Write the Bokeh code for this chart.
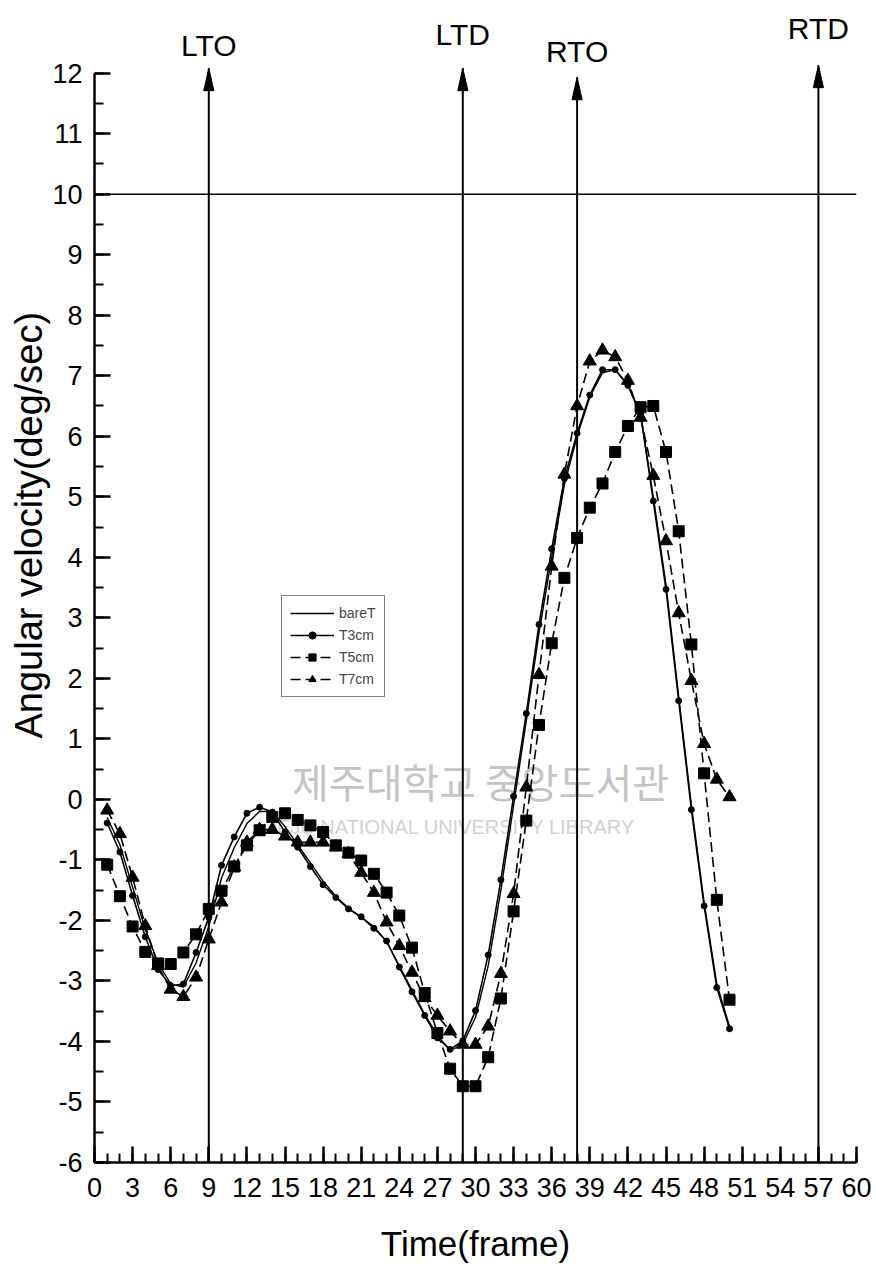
from bokeh.plotting import figure
from bokeh.models import (ColumnDataSource, Span, Label, Legend, LegendItem,
                          FixedTicker, Range1d, Title)
from bokeh.core.properties import value
from bokeh.embed import file_html
from bokeh.resources import INLINE

# ---- data -------------------------------------------------------------
frames = list(range(1, 51))

bare_t = [-0.30, -0.75, -1.45, -2.15, -2.70, -3.05, -3.10, -2.70, -2.10, -1.30,
          -0.80, -0.40, -0.20, -0.20, -0.45, -0.75, -1.05, -1.35, -1.60, -1.80,
          -1.95, -2.10, -2.35, -2.75, -3.15, -3.55, -3.90, -4.15, -4.05, -3.60,
          -2.75, -1.50, -0.10, 1.30, 2.75, 4.00, 5.20, 6.00, 6.65, 7.05,
          7.10, 6.85, 6.35, 5.00, 3.55, 1.70, -0.10, -1.70, -3.05, -3.75]

t3cm = [-0.39, -0.87, -1.59, -2.27, -2.81, -3.08, -3.05, -2.53, -1.95, -1.09,
        -0.62, -0.23, -0.13, -0.21, -0.54, -0.79, -1.11, -1.41, -1.62, -1.81,
        -1.94, -2.13, -2.34, -2.77, -3.18, -3.57, -3.94, -4.13, -3.99, -3.49,
        -2.57, -1.33, 0.05, 1.42, 2.89, 4.14, 5.30, 6.05, 6.68, 7.10,
        7.10, 6.84, 6.37, 4.93, 3.47, 1.63, -0.17, -1.76, -3.11, -3.79]

t5cm = [-1.08, -1.60, -2.10, -2.52, -2.71, -2.72, -2.53, -2.23, -1.81, -1.51,
        -1.11, -0.76, -0.51, -0.29, -0.23, -0.34, -0.43, -0.54, -0.76, -0.88,
        -1.01, -1.23, -1.54, -1.92, -2.45, -3.20, -3.86, -4.45, -4.74, -4.74,
        -4.26, -3.29, -1.85, -0.35, 1.23, 2.58, 3.66, 4.32, 4.82, 5.22,
        5.74, 6.17, 6.48, 6.50, 5.74, 4.43, 2.56, 0.43, -1.66, -3.31]

t7cm = [-0.18, -0.57, -1.29, -2.09, -2.75, -3.14, -3.26, -2.94, -2.31, -1.70,
        -1.12, -0.71, -0.50, -0.50, -0.61, -0.71, -0.71, -0.71, -0.79, -0.90,
        -1.21, -1.54, -2.03, -2.42, -2.86, -3.28, -3.57, -3.83, -4.05, -4.05,
        -3.75, -2.88, -1.56, 0.20, 2.06, 3.85, 5.37, 6.50, 7.24, 7.42,
        7.31, 6.92, 6.31, 5.35, 4.27, 3.08, 1.96, 0.92, 0.33, 0.04]

# gait events (frame of occurrence) with arrow tip height and label height
event_names = ["LTO", "LTD", "RTO", "RTD"]
event_frames = [9, 29, 38, 57]
event_tips = [12.08, 12.08, 11.93, 12.13]
event_label_y = [12.46, 12.63, 12.35, 12.74]

x_ticks = list(range(0, 61, 3))
x_minor = list(range(0, 61))
y_ticks = list(range(-6, 13))
y_minor = [v / 2 for v in range(-12, 25)]
reference_level = 10

FONT = "Liberation Sans"

# ---- figure -----------------------------------------------------------
p = figure(width=876, height=1287,
           x_range=Range1d(0, 60), y_range=Range1d(-6, 13.2),
           output_backend="svg", toolbar_location=None,
           min_border_left=94, min_border_right=20,
           min_border_top=0, min_border_bottom=125)

p.outline_line_color = None
p.xgrid.visible = False
p.ygrid.visible = False
p.background_fill_color = "white"
p.border_fill_color = "white"

for ax in (p.xaxis, p.yaxis):
    ax.axis_line_width = 2.5
    ax.axis_line_color = "black"
    ax.major_tick_in = 16
    ax.major_tick_out = 0
    ax.minor_tick_in = 9
    ax.minor_tick_out = 0
    ax.major_tick_line_width = 2.5
    ax.minor_tick_line_width = 2
    ax.major_tick_line_color = "black"
    ax.minor_tick_line_color = "black"
    ax.major_label_text_font = FONT
    ax.major_label_text_font_size = "27px"
    ax.major_label_text_color = "black"

p.xaxis.ticker = FixedTicker(ticks=x_ticks, minor_ticks=x_minor)
p.yaxis.ticker = FixedTicker(ticks=y_ticks, minor_ticks=y_minor)
p.yaxis.major_label_overrides = {t: str(t) for t in y_ticks}
p.yaxis.bounds = (-6, 12)
p.xaxis.major_label_standoff = 15
p.yaxis.major_label_standoff = 12

p.xaxis.axis_label = "Time(frame)"
p.xaxis.axis_label_text_font = FONT
p.xaxis.axis_label_text_font_size = "35px"
p.xaxis.axis_label_text_font_style = "normal"
p.xaxis.axis_label_text_color = "black"
p.xaxis.axis_label_standoff = 24

# y axis title, reading upward on the left side
p.add_layout(Title(text="Angular velocity(deg/sec)", align="left", offset=424,
                   text_font=FONT, text_font_size="38px",
                   text_font_style="normal", text_color="black",
                   standoff=0), "left")

# library stamp underneath the curves
p.add_layout(Label(x=30.4, y=0.31, text="제주대학교 중앙도서관", level="underlay",
                   text_align="center", text_baseline="middle",
                   text_font="Noto Sans CJK KR", text_font_size="40px",
                   text_color="#c4c4c4"))
p.add_layout(Label(x=28.3, y=-0.45, text="JEJU NATIONAL UNIVERSITY  LIBRARY",
                   level="underlay", text_align="center", text_baseline="middle",
                   text_font=FONT, text_font_size="20px", text_color="#d2d2d2"))

# horizontal reference line
p.add_layout(Span(location=reference_level, dimension="width",
                  line_color="black", line_width=1.5))

# ---- event arrows -----------------------------------------------------
ev = ColumnDataSource(dict(
    x=event_frames,
    y0=[-6] * len(event_frames),
    tip=event_tips,
    ly=event_label_y,
    name=event_names,
    hx=[[f - 0.4, f, f + 0.4] for f in event_frames],
    hy=[[t - 0.37, t, t - 0.37] for t in event_tips],
))
p.segment(x0="x", y0="y0", x1="x", y1="tip", source=ev,
          line_color="black", line_width=2)
p.patches(xs="hx", ys="hy", source=ev, fill_color="black", line_color="black")
p.text(x="x", y="ly", text="name", source=ev, text_align="center",
       text_baseline="middle", text_font=value(FONT), text_font_size="30px",
       text_color="black")

# ---- series -----------------------------------------------------------
src = ColumnDataSource(dict(f=frames, bare=bare_t, t3=t3cm, t5=t5cm, t7=t7cm))

r_bare = p.line("f", "bare", source=src, line_color="black", line_width=1.4)

r_t3l = p.line("f", "t3", source=src, line_color="black", line_width=1.6)
r_t3m = p.scatter("f", "t3", source=src, marker="circle", size=6,
                  fill_color="black", line_color="black")

r_t5l = p.line("f", "t5", source=src, line_color="black", line_width=1.6,
               line_dash="10 5")
r_t5m = p.scatter("f", "t5", source=src, marker="square", size=11,
                  fill_color="black", line_color="black")

r_t7l = p.line("f", "t7", source=src, line_color="black", line_width=1.6,
               line_dash="10 5")
r_t7m = p.scatter("f", "t7", source=src, marker="triangle", size=13,
                  fill_color="black", line_color="black")

legend = Legend(items=[
    LegendItem(label="bareT", renderers=[r_bare]),
    LegendItem(label="T3cm", renderers=[r_t3l, r_t3m]),
    LegendItem(label="T5cm", renderers=[r_t5l, r_t5m]),
    LegendItem(label="T7cm", renderers=[r_t7l, r_t7m]),
], location=(187, 465), orientation="vertical",
    border_line_color="black", border_line_width=1.5,
    label_text_font=FONT, label_text_font_size="14px",
    glyph_width=44, glyph_height=18, label_height=18,
    spacing=4, padding=8, margin=0, background_fill_alpha=1)
p.add_layout(legend)

open("out.html", "w").write(file_html(p, INLINE))
